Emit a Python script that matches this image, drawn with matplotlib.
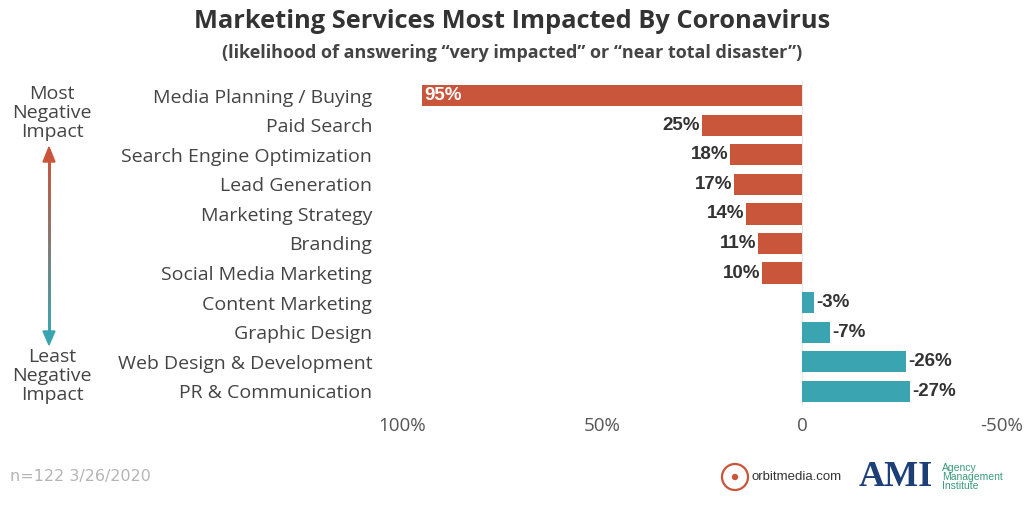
import matplotlib
matplotlib.use("Agg")
import matplotlib.pyplot as plt
import numpy as np
from matplotlib.collections import LineCollection
from matplotlib.colors import to_rgb
from matplotlib.patches import Circle, Polygon

# data
categories = ["Media Planning / Buying", "Paid Search", "Search Engine Optimization",
              "Lead Generation", "Marketing Strategy", "Branding", "Social Media Marketing",
              "Content Marketing", "Graphic Design", "Web Design & Development",
              "PR & Communication"]
values = [95, 25, 18, 17, 14, 11, 10, -3, -7, -26, -27]
tick_vals = [100, 50, 0, -50]
tick_labels = ["100%", "50%", "0", "-50%"]

RED = "#c9553b"
TEAL = "#3aa4b1"
W, H = 1024, 512

fig = plt.figure(figsize=(10.24, 5.12), dpi=100)

# main bar axes (pixel positions converted to figure fractions)
x0, x1 = 382, 1022      # 105 .. -55
y_top, y_bot = 81, 406
ax = fig.add_axes([x0 / W, 1 - y_bot / H, (x1 - x0) / W, (y_bot - y_top) / H])
ypos = np.arange(len(categories))
colors = [RED if v > 0 else TEAL for v in values]
ax.barh(ypos, values, height=0.72, color=colors)
ax.set_xlim(105, -55)
ax.set_ylim(len(categories) - 0.5, -0.5)
ax.set_yticks(ypos)
ax.set_yticklabels(categories, fontsize=14, color="#444444", family="Open Sans")
ax.tick_params(axis="y", length=0, pad=7)
ax.set_xticks(tick_vals)
ax.set_xticklabels(tick_labels, fontsize=13.5, color="#555555", family="Open Sans")
ax.tick_params(axis="x", length=0, pad=8)
for s in ax.spines.values():
    s.set_visible(False)
ax.axvline(0, color="#e6e6e6", lw=0.8, zorder=0)

lab_font = dict(family="Liberation Sans", fontweight="bold", fontsize=13.5)
for y, v in zip(ypos, values):
    if v >= 90:
        ax.text(v - 0.5, y, f"{v}%", color="white", ha="left", va="center", **lab_font)
    elif v > 0:
        ax.text(v + 0.5, y, f"{v}%", color="#333333", ha="right", va="center", **lab_font)
    else:
        ax.text(v - 0.5, y, f"{v}%", color="#333333", ha="left", va="center", **lab_font)

# overlay in pixel coords for titles, arrow, footer
ov = fig.add_axes([0, 0, 1, 1])
ov.set_xlim(0, W)
ov.set_ylim(H, 0)
ov.axis("off")
ov.patch.set_alpha(0)

ov.text(512, 22, "Marketing Services Most Impacted By Coronavirus", ha="center", va="center",
        fontsize=18.3, fontweight="bold", color="#333333", family="Open Sans")
ov.text(512, 53, "(likelihood of answering \u201cvery impacted\u201d or \u201cnear total disaster\u201d)",
        ha="center", va="center", fontsize=13, fontweight="bold", color="#444444",
        family="Open Sans")

side_font = dict(ha="center", va="center", fontsize=14, color="#444444", family="Open Sans",
                 linespacing=1.05)
ov.text(52, 113, "Most\nNegative\nImpact", **side_font)
ov.text(52, 376, "Least\nNegative\nImpact", **side_font)

# gradient arrow
ax_x = 49
ys = np.linspace(160, 333, 80)
c0, c1 = np.array(to_rgb(RED)), np.array(to_rgb(TEAL))
segs = [[(ax_x, ys[i]), (ax_x, ys[i + 1])] for i in range(len(ys) - 1)]
cols = [c0 + (c1 - c0) * i / (len(segs) - 1) for i in range(len(segs))]
ov.add_collection(LineCollection(segs, colors=cols, linewidths=2, capstyle="projecting"))
ov.add_patch(Polygon([(ax_x - 6, 162), (ax_x + 6, 162), (ax_x, 147)], color=RED))
ov.add_patch(Polygon([(ax_x - 6, 331), (ax_x + 6, 331), (ax_x, 345)], color=TEAL))

# footer
ov.text(10, 477, "n=122 3/26/2020", ha="left", va="center", fontsize=11.5, color="#b5b5b5",
        family="DejaVu Sans")
ov.add_patch(Circle((735, 477), 13, fill=False, ec=RED, lw=1.6))
ov.add_patch(Circle((735, 477), 2.5, color=RED))
ov.text(751, 477, "orbitmedia.com", ha="left", va="center", fontsize=9.5, color="#333333",
        family="Liberation Sans")
ov.text(859, 477, "AMI", ha="left", va="center", fontsize=26, fontweight="bold",
        color="#1d3f77", family="Liberation Serif")
ov.text(942, 477, "Agency\nManagement\nInstitute", ha="left", va="center", fontsize=7.5,
        color="#3a9a7a", family="Liberation Sans", linespacing=0.9)

fig.savefig("out.png", dpi=100, facecolor="white")
